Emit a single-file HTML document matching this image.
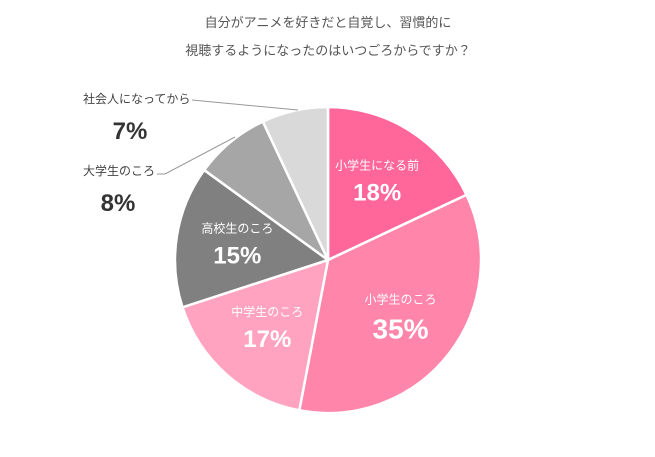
<!DOCTYPE html>
<html><head><meta charset="utf-8"><style>
body{margin:0;background:#fff;width:655px;height:452px;overflow:hidden;font-family:"Liberation Sans","Noto Sans CJK JP",sans-serif}
</style></head><body>
<svg width="655" height="452" style="font-family:'Liberation Sans','Noto Sans CJK JP',sans-serif">
<text x="328" y="27" text-anchor="middle" font-size="13" fill="#555">自分がアニメを好きだと自覚し、習慣的に</text>
<text x="328" y="55" text-anchor="middle" font-size="13" fill="#555">視聴するようになったのはいつごろからですか？</text>
<g id="slices"></g>
<g id="labels"></g>
<line x1="192" y1="100" x2="298" y2="110" stroke="#999" stroke-width="1"/>
<text x="83" y="103" font-size="12" fill="#444">社会人になってから</text>
<text x="130" y="139" text-anchor="middle" font-size="24" font-weight="bold" fill="#333">7%</text>
<polyline points="157,174 165,174 235,137" fill="none" stroke="#999" stroke-width="1"/>
<text x="83" y="175" font-size="12" fill="#444">大学生のころ</text>
<text x="118" y="211" text-anchor="middle" font-size="24" font-weight="bold" fill="#333">8%</text>
</svg>
<script>
const categories=["小学生になる前","小学生のころ","中学生のころ","高校生のころ","大学生のころ","社会人になってから"];
const values=[18,35,17,15,8,7];
const colors=["#ff6699","#ff85aa","#ffa3c0","#808080","#a6a6a6","#d9d9d9"];
const cx=328,cy=260,r=153;
const NS="http://www.w3.org/2000/svg";
const total=values.reduce((a,b)=>a+b,0);
const gs=document.getElementById('slices'),gl=document.getElementById('labels');
function pt(a,rr){return [cx+rr*Math.sin(a),cy-rr*Math.cos(a)];}
let cum=0;
values.forEach((v,i)=>{
  const a0=cum/total*2*Math.PI;cum+=v;const a1=cum/total*2*Math.PI;
  const p0=pt(a0,r),p1=pt(a1,r);
  const p=document.createElementNS(NS,'path');
  p.setAttribute('d',`M${cx},${cy}L${p0[0]},${p0[1]}A${r},${r} 0 ${a1-a0>Math.PI?1:0} 1 ${p1[0]},${p1[1]}Z`);
  p.setAttribute('fill',colors[i]);p.setAttribute('stroke','#fff');p.setAttribute('stroke-width','2.5');
  
  
  gs.appendChild(p);
  if(i<4){
    const m=pt((a0+a1)/2,r*0.6);
    const t=document.createElementNS(NS,'text');
    t.setAttribute('x',m[0]);t.setAttribute('y',m[1]-13);t.setAttribute('text-anchor','middle');
    t.setAttribute('font-size','12');t.setAttribute('fill','#fff');t.textContent=categories[i];
    
    
    gl.appendChild(t);
    const t2=document.createElementNS(NS,'text');
    t2.setAttribute('x',m[0]);t2.setAttribute('y',m[1]+(i==1?22:18));t2.setAttribute('text-anchor','middle');
    t2.setAttribute('font-size',i==1?'28':'24');t2.setAttribute('font-weight','bold');t2.setAttribute('fill','#fff');
    t2.textContent=v+'%';
    
    
    gl.appendChild(t2);
  }
});
</script>
</body></html>
